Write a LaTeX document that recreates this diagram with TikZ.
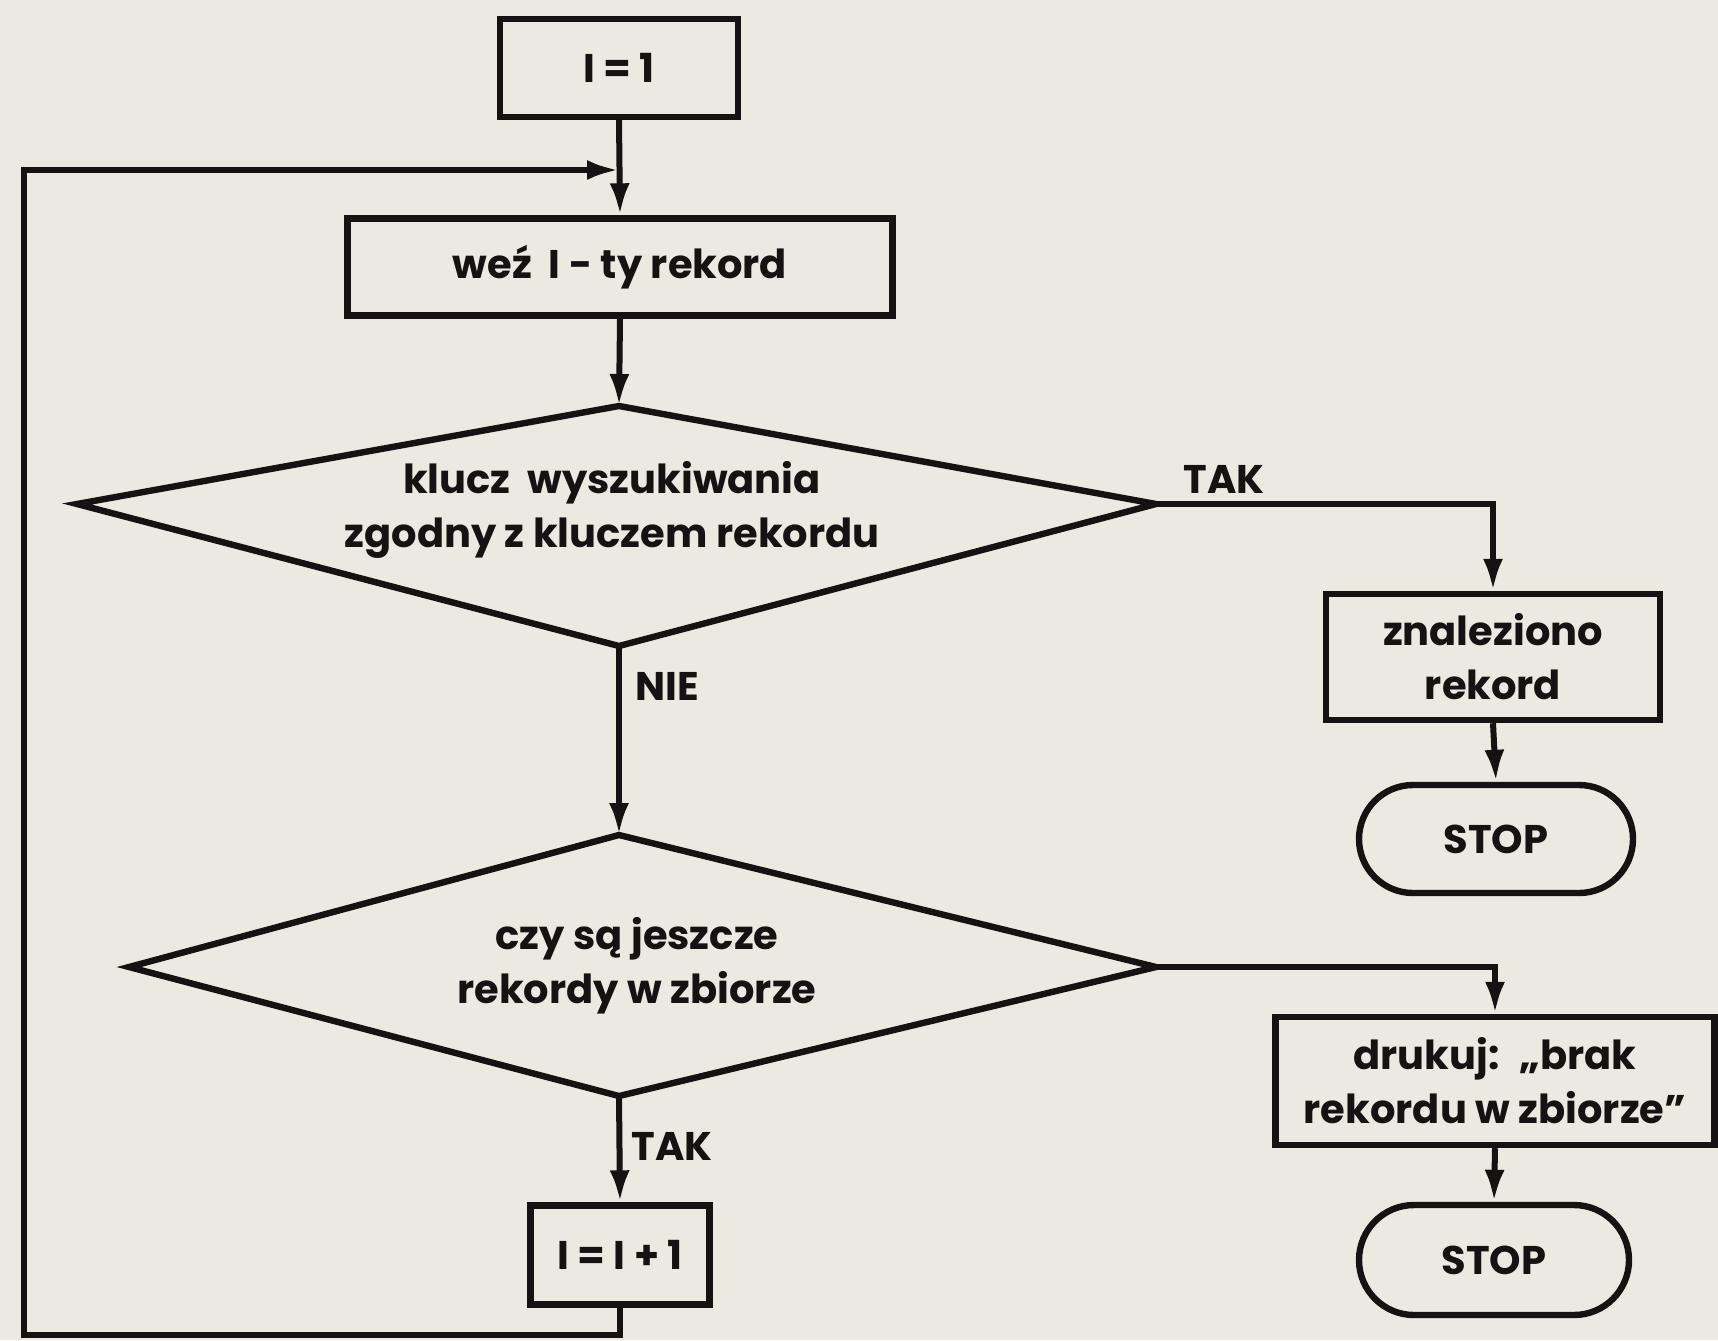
\documentclass[tikz,border=0pt]{standalone}
\usepackage{fontspec}
\setmainfont{Poppins}
\usetikzlibrary{arrows.meta,shapes.misc}
\definecolor{paper}{RGB}{236,233,225}
\definecolor{ink}{RGB}{20,18,18}
\tikzset{
  lbl/.style={font=\bfseries\fontsize{20}{27}\selectfont, text=ink, align=center, inner sep=0pt},
  boxst/.style={draw=ink, line width=3.2pt, rectangle, inner sep=0pt, lbl},
  stopst/.style={draw=ink, line width=3.2pt, rounded rectangle, inner sep=0pt, lbl},
  conn/.style={draw=ink, line width=3pt},
  arr/.style={conn, -{Latex[length=16pt,width=10pt]}},
  dia/.style={draw=ink, line width=3.2pt, line join=miter}
}
\begin{document}
\begin{tikzpicture}[x=0.5pt,y=-0.5pt]
\fill[paper] (0,0) rectangle (1718,1340);
\useasboundingbox (0,0) rectangle (1718,1340);

% boxes
\node[boxst, minimum width=119pt, minimum height=49pt] (init) at (619,68) {I = 1};
\node[boxst, minimum width=272.5pt, minimum height=48.5pt] (take) at (620,267) {weź~ I - ty rekord};

% diamond 1
\coordinate (d1t) at (619,406);
\coordinate (d1l) at (77,504);
\coordinate (d1r) at (1156,504);
\coordinate (d1b) at (619,646);
\draw[dia] (d1t) -- (d1r) -- (d1b) -- (d1l) -- cycle;
\node[lbl] (d1txt) at (612,510) {klucz~ wyszukiwania\\zgodny z kluczem rekordu};

% diamond 2
\coordinate (d2t) at (619,835);
\coordinate (d2l) at (129,967);
\coordinate (d2r) at (1156,967);
\coordinate (d2b) at (619,1096);
\draw[dia] (d2t) -- (d2r) -- (d2b) -- (d2l) -- cycle;
\node[lbl] (d2txt) at (637,966) {czy są jeszcze\\rekordy w zbiorze};

% right column
\node[boxst, minimum width=167pt, minimum height=63pt] (found) at (1493,657) {znaleziono\\rekord};
\node[stopst, minimum width=137pt, minimum height=54pt] (stop1) at (1496,839) {STOP};
\node[boxst, minimum width=219.5pt, minimum height=64pt] (print) at (1495,1081) {drukuj:~ „brak\\rekordu w zbiorze”};
\node[stopst, minimum width=135pt, minimum height=55pt] (stop2) at (1494,1260) {STOP};

% increment
\node[boxst, minimum width=89.5pt, minimum height=49.5pt] (inc) at (620,1255) {I = I + 1};

% labels
\node[lbl] (tak1) at (1224,479) {TAK};
\node[lbl] (nie) at (667,686) {NIE};
\node[lbl] (tak2) at (672,1146) {TAK};

% connectors
\coordinate (join) at (619,170);
\coordinate (lb) at (24,1335);
\draw[arr] (init.south) -- (take.north);
\draw[arr] (take.south) -- (d1t);
\draw[arr] (d1r) -| (found.north);
\draw[arr] (found.south) -- (stop1.north);
\draw[arr] (d1b) -- (d2t);
\draw[arr] (d2r) -| (print.north);
\draw[arr] (print.south) -- (stop2.north);
\draw[arr] (d2b) -- (inc.north);
\draw[arr] (inc.south) |- (lb) |- (join);
\end{tikzpicture}
\end{document}
